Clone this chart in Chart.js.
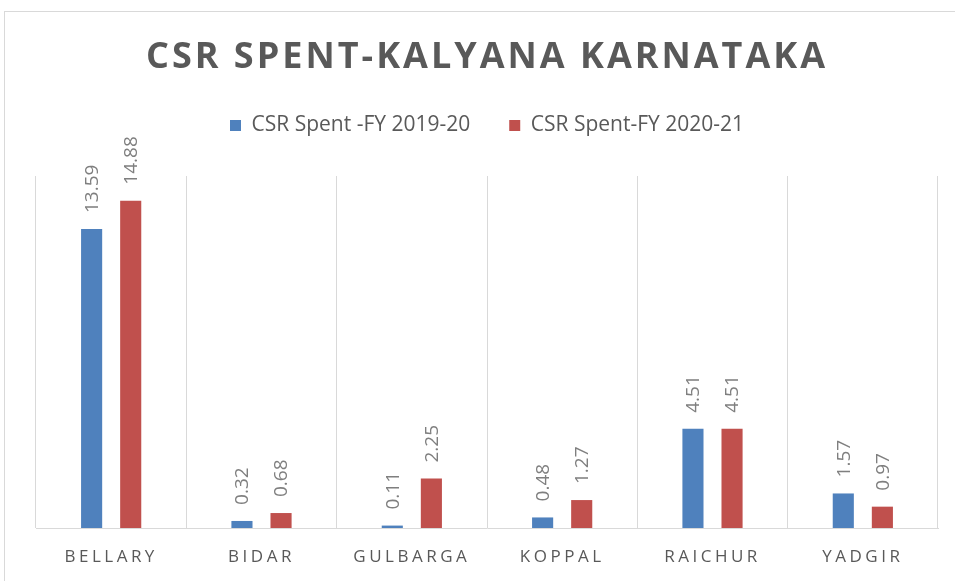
<!DOCTYPE html>
<html>
<head>
<meta charset="utf-8">
<title>CSR Spent - Kalyana Karnataka</title>
<script src="https://cdn.jsdelivr.net/npm/chart.js@4.4.1/dist/chart.umd.min.js"></script>
<style>
    html, body { margin: 0; padding: 0; background: #ffffff; overflow: hidden; }
    #wrap { position: relative; width: 955px; height: 581px; }
    #frame { position: absolute; left: 4px; top: 11px; width: 1000px; height: 1000px; border: 1px solid #d9d9d9; }
    #chart { position: absolute; left: 0; top: 0; }
</style>
</head>
<body>
<div id="wrap">
    <div id="frame"></div>
    <canvas id="chart" width="955" height="581"></canvas>
</div>
<script>
// Data
const districts = ['BELLARY', 'BIDAR', 'GULBARGA', 'KOPPAL', 'RAICHUR', 'YADGIR'];
const spent2019 = [13.59, 0.32, 0.11, 0.48, 4.51, 1.57];
const spent2020 = [14.88, 0.68, 2.25, 1.27, 4.51, 0.97];
const seriesNames = ['CSR Spent -FY 2019-20', 'CSR Spent-FY 2020-21'];
const chartTitle = 'CSR SPENT-KALYANA KARNATAKA';

Chart.defaults.font.family = "'Open Sans', sans-serif";

// Draws the rotated value labels above each bar
const barValueLabels = {
    id: 'barValueLabels',
    afterDatasetsDraw(chart) {
        const ctx = chart.ctx;
        chart.data.datasets.forEach((ds, i) => {
            const meta = chart.getDatasetMeta(i);
            meta.data.forEach((bar, j) => {
                ctx.save();
                ctx.translate(bar.x + 1, bar.y - 16);
                ctx.rotate(-Math.PI / 2);
                ctx.font = "19px 'Open Sans', sans-serif";
                ctx.fillStyle = '#7f7f7f';
                ctx.textAlign = 'left';
                ctx.textBaseline = 'middle';
                ctx.fillText(ds.data[j].toFixed(2), 0, 0);
                ctx.restore();
            });
        });
    }
};

// Letter spacing for the title and the category labels
const spacedText = {
    id: 'spacedText',
    beforeDraw(chart) {
        const ctx = chart.ctx;
        const xs = chart.scales.x;
        if (xs && !xs._spaced) {
            const origLabels = xs.drawLabels;
            xs.drawLabels = function (area) {
                ctx.save();
                ctx.letterSpacing = '3.5px';
                origLabels.call(this, area);
                ctx.restore();
            };
            xs._spaced = true;
        }
        const tb = chart.titleBlock;
        if (tb && !tb._spaced) {
            const origTitle = tb.draw;
            tb.draw = function () {
                ctx.save();
                ctx.letterSpacing = '3px';
                origTitle.apply(this, arguments);
                ctx.restore();
            };
            tb._spaced = true;
        }
    }
};

// Extra room under the legend
const legendGap = {
    id: 'legendGap',
    beforeInit(chart) {
        const origFit = chart.legend.fit;
        chart.legend.fit = function fit() {
            origFit.bind(chart.legend)();
            this.height += 30;
        };
    }
};

const ctx = document.getElementById('chart').getContext('2d');
new Chart(ctx, {
    type: 'bar',
    data: {
        labels: districts,
        datasets: [{
            label: seriesNames[0],
            data: spent2019,
            backgroundColor: '#4f81bd',
            categoryPercentage: 0.52,
            barPercentage: 0.54
        }, {
            label: seriesNames[1],
            data: spent2020,
            backgroundColor: '#c0504d',
            categoryPercentage: 0.52,
            barPercentage: 0.54
        }]
    },
    options: {
        responsive: false,
        animation: false,
        layout: {
            padding: { left: 36, right: 17, top: 0, bottom: 0 }
        },
        plugins: {
            title: {
                display: true,
                text: chartTitle,
                color: '#595959',
                font: { size: 36, weight: 'bold', lineHeight: 1 },
                padding: { top: 40, bottom: 0 }
            },
            legend: {
                display: true,
                position: 'top',
                labels: {
                    color: '#595959',
                    font: { size: 21 },
                    boxWidth: 11,
                    boxHeight: 11,
                    padding: 39
                }
            },
            tooltip: { enabled: false }
        },
        scales: {
            x: {
                grid: {
                    display: true,
                    offset: true,
                    color: '#d9d9d9',
                    lineWidth: 1,
                    drawTicks: false
                },
                border: { display: true, color: '#d9d9d9', width: 1 },
                ticks: {
                    color: '#595959',
                    font: { size: 17 },
                    padding: 19,
                    maxRotation: 0,
                    autoSkip: false
                },
                afterFit(scale) {
                    scale.height = 53;
                }
            },
            y: {
                display: false,
                min: 0,
                max: 16
            }
        }
    },
    plugins: [barValueLabels, spacedText, legendGap]
});
</script>
</body>
</html>
